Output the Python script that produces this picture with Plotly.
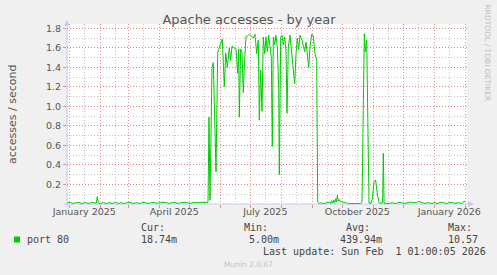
import plotly.graph_objects as go
import pandas as pd

# ---------------- data (day offset from 2025-01-01, accesses/second) ----------------
quiet_start = [(-2.0, 0.012), (1, 0.016), (4, 0.004), (7, 0.015), (10, 0.014), (13, 0.003),
               (16, 0.016), (19, 0.005), (22, 0.015), (25, 0.012), (27, 0.010), (28, 0.075),
               (29, 0.012), (31, 0.004), (34, 0.016), (37, 0.003), (40, 0.015), (43, 0.004),
               (46, 0.016), (49, 0.005), (52, 0.014), (55, 0.004), (58, 0.016), (61, 0.017),
               (64, 0.003), (67, 0.016), (70, 0.005), (73, 0.015), (76, 0.016), (79, 0.004),
               (82, 0.015), (85, 0.016), (88, 0.005), (91, 0.017), (94, 0.016), (97, 0.015),
               (100, 0.004), (103, 0.016), (106, 0.016), (109, 0.005), (112, 0.016), (115, 0.017),
               (118, 0.016), (121, 0.004), (124, 0.017), (127, 0.016), (130, 0.018), (133, 0.017),
               (136, 0.016), (138.7, 0.018)]

busy_summer = [(139.7, 0.89), (140.7, 0.04), (142.7, 1.40), (144.0, 1.45), (146.7, 0.33),
               (148.4, 1.55), (150.5, 1.62), (153.0, 1.69), (155.0, 1.20), (156.4, 1.55),
               (158.0, 1.40), (160.0, 1.60), (161.4, 1.47), (162.7, 1.62), (165.0, 1.60),
               (166.7, 1.59), (168.4, 1.34), (169.4, 1.59), (170.0, 0.89), (171.4, 1.59),
               (172.7, 1.55), (174.0, 1.14), (175.0, 1.40), (176.7, 1.72), (178.0, 1.72),
               (180.0, 1.74), (182.4, 1.72), (184.0, 1.70), (185.7, 1.74), (187.4, 1.54),
               (189.0, 1.68), (190.0, 0.86), (191.4, 1.37), (192.7, 0.95), (194.0, 1.71),
               (195.4, 1.54), (196.7, 1.71), (198.0, 1.56), (199.4, 1.73), (200.7, 1.64),
               (202.0, 1.50), (203.0, 0.59), (204.0, 1.71), (205.4, 1.63), (206.7, 1.73),
               (208.0, 1.61), (209.4, 1.20), (210.0, 0.30), (211.4, 1.71), (212.7, 1.73),
               (214.0, 1.63), (215.4, 1.71), (216.7, 1.57), (217.7, 0.93), (219.0, 1.61),
               (220.7, 1.73), (222.4, 1.54), (224.0, 1.40), (225.4, 1.23), (226.7, 1.54),
               (228.0, 1.70), (229.4, 1.58), (230.7, 1.73), (232.7, 1.68), (234.0, 1.61),
               (235.4, 1.56), (236.7, 1.66), (238.0, 1.54), (239.4, 1.40), (240.7, 1.61),
               (242.4, 1.74), (244.0, 1.72), (245.7, 1.54), (247.4, 1.47), (248.4, 0.02)]

quiet_autumn = [(250.0, 0.005), (252.0, 0.012), (254.0, 0.004), (256.0, 0.010), (259.0, 0.015),
                (260.7, 0.020), (261.5, 0.005), (262.5, 0.035), (263.5, 0.010), (264.5, 0.040),
                (265.5, 0.015), (266.5, 0.055), (267.3, 0.020), (268.0, 0.090), (269.0, 0.030),
                (270.0, 0.045), (271.0, 0.020), (272.5, 0.030), (274.0, 0.010), (276.0, 0.020),
                (277.3, 0.012), (279.0, 0.004), (282.0, 0.005), (285.0, 0.004), (288.0, 0.005),
                (291.0, 0.004), (292.7, 0.020), (295.0, 1.745), (296.0, 1.56), (297.4, 1.68),
                (299.7, 0.010), (301.5, 0.005), (303.0, 0.050), (304.7, 0.230), (306.3, 0.245),
                (307.3, 0.170), (308.3, 0.080), (310.0, 0.010), (312.5, 0.005), (313.3, 0.010),
                (314.0, 0.520), (314.8, 0.010), (317.0, 0.004), (320.0, 0.005), (323.0, 0.015),
                (326.0, 0.004), (329.0, 0.016), (332.0, 0.015), (335.0, 0.004), (338.0, 0.015),
                (341.0, 0.020), (344.0, 0.015), (347.0, 0.016), (350.0, 0.025), (353.0, 0.015),
                (356.0, 0.004), (359.0, 0.016), (362.0, 0.005), (365.0, 0.014), (368.0, 0.004),
                (371.0, 0.016), (374.0, 0.016), (377.0, 0.004), (380.0, 0.015), (383.0, 0.016),
                (386.0, 0.005), (389.0, 0.016), (392.0, 0.004), (395.0, 0.030), (396.0, 0.019)]

y_ticks = [0.2, 0.4, 0.6, 0.8, 1.0, 1.2, 1.4, 1.6, 1.8]
x_label_dates = ["2025-01-16", "2025-04-16", "2025-07-16", "2025-10-16", "2026-01-16"]
x_labels = ["January 2025", "April 2025", "July 2025", "October 2025", "January 2026"]

series_name = "port 80"
stat_cur, stat_min, stat_avg, stat_max = "18.74m", "5.00m", "439.94m", "10.57"
last_update = "Last update: Sun Feb\u00a0\u00a01 01:00:05 2026"
title_text = "Apache accesses - by year"
y_title = "accesses / second"
side_text = "RRDTOOL / TOBI OETIKER"
footer = "Munin 2.0.67"

# ---------------- build ----------------
BASE = pd.Timestamp("2025-01-01")
points = quiet_start + busy_summer + quiet_autumn
xs = [BASE + pd.Timedelta(days=d) for d, _ in points]
ys = [v for _, v in points]

W, H = 497, 275
PL, PR, PT, PB = 67, 467, 24, 204  # plot area in pixels


def fx(p):
    return (p - PL) / (PR - PL)


def fy(p):
    return (PB - p) / (PB - PT)


GREEN = "#00CC00"
RED_GRID = "rgba(225,110,110,0.75)"
GRAY_GRID = "rgba(150,150,150,0.55)"
AXIS = "#C4CCF0"
TXT = "#555555"

fig = go.Figure()
fig.add_trace(go.Scatter(x=xs, y=ys, mode="lines", line=dict(color=GREEN, width=1),
                         hoverinfo="skip", showlegend=False))

mid_months = pd.date_range("2024-12-16", "2026-02-16", freq="MS") + pd.Timedelta(days=15)
tickvals = list(mid_months)
ticktext = []
for t in tickvals:
    s = t.strftime("%Y-%m-%d")
    ticktext.append(x_labels[x_label_dates.index(s)] if s in x_label_dates else "")

x0 = BASE + pd.Timedelta(days=-2.3)
x1 = BASE + pd.Timedelta(days=397.7)

fig.update_layout(
    width=W, height=H, autosize=False,
    margin=dict(l=PL, r=W - PR, t=PT, b=H - PB),
    paper_bgcolor="#F0F0F0", plot_bgcolor="#FFFFFF",
    font=dict(family="DejaVu Sans", color=TXT),
    title=dict(text=title_text, x=249 / W, xref="container", xanchor="center",
               y=1 - 19 / H, yref="container", yanchor="middle",
               font=dict(family="DejaVu Sans", size=13, color=TXT)),
    xaxis=dict(type="date", range=[x0, x1], tickmode="array", tickvals=tickvals,
               ticktext=ticktext, showgrid=True, gridcolor=GRAY_GRID, griddash="1px,2px",
               gridwidth=1, ticks="", showline=False, zeroline=False,
               tickfont=dict(family="DejaVu Sans", size=9.5, color=TXT),
               minor=dict(tickmode="linear", tick0="2025-01-01", dtick="M1", showgrid=True,
                          gridcolor=RED_GRID, griddash="1px,2px", gridwidth=1,
                          ticks="outside", ticklen=3, tickcolor=RED_GRID),
               fixedrange=True),
    yaxis=dict(range=[0, 1.845], tickmode="array", tickvals=y_ticks,
               ticktext=["%.1f" % v for v in y_ticks], showgrid=True, gridcolor=RED_GRID,
               griddash="1px,2px", gridwidth=1, ticks="outside", ticklen=3,
               tickcolor=RED_GRID, showline=False, zeroline=False,
               tickfont=dict(family="DejaVu Sans", size=9.5, color=TXT),
               minor=dict(tickmode="linear", tick0=0, dtick=0.1, showgrid=True,
                          gridcolor=GRAY_GRID, griddash="1px,2px", gridwidth=1),
               fixedrange=True),
)

shapes = []
# axis lines with arrows
shapes.append(dict(type="line", xref="paper", yref="paper", x0=fx(PL), x1=fx(PL),
                   y0=fy(PB + 3), y1=fy(22), line=dict(color=AXIS, width=1), layer="between"))
shapes.append(dict(type="line", xref="paper", yref="paper", x0=fx(PL - 3), x1=fx(471),
                   y0=fy(PB), y1=fy(PB), line=dict(color=AXIS, width=1), layer="between"))
shapes.append(dict(type="path", xref="paper", yref="paper",
                   path="M %f,%f L %f,%f L %f,%f Z" % (fx(64), fy(26), fx(70), fy(26), fx(67), fy(20)),
                   fillcolor=AXIS, line=dict(width=0), layer="above"))
shapes.append(dict(type="path", xref="paper", yref="paper",
                   path="M %f,%f L %f,%f L %f,%f Z" % (fx(468), fy(201), fx(468), fy(207), fx(474), fy(204)),
                   fillcolor=AXIS, line=dict(width=0), layer="above"))
# legend swatch
shapes.append(dict(type="rect", xref="paper", yref="paper", x0=fx(14), x1=fx(20),
                   y0=fy(242.5), y1=fy(236.5), fillcolor=GREEN, line=dict(width=0)))
fig.update_layout(shapes=shapes)

MONO = "DejaVu Sans Mono"
ann = []


def txt(s, x, y, size=10, color="#444444", family=MONO, angle=0, xanchor="left"):
    ann.append(dict(text=s, x=fx(x), y=fy(y), xref="paper", yref="paper", showarrow=False,
                    xanchor=xanchor, yanchor="middle", textangle=angle, borderpad=0,
                    font=dict(family=family, size=size, color=color)))


txt(series_name, 26, 239)
txt("Cur:", 140, 227.5)
txt(stat_cur, 140, 239)
txt("Min:", 243, 227.5)
txt(stat_min, 248, 239)
txt("Avg:", 345, 227.5)
txt(stat_avg, 339, 239)
txt("Max:", 447, 227.5)
txt(stat_max, 447, 239)
txt(last_update, 262, 251)
txt(footer, 223, 264, size=7.5, color="#C4C4C4", family="DejaVu Sans")
txt(y_title, 12, 114, size=11, color=TXT, family="DejaVu Sans", angle=-90, xanchor="center")
txt(side_text, 487.5, 53, size=7.5, color="#BDBDBD", family="DejaVu Sans", angle=90, xanchor="center")
fig.update_layout(annotations=ann)

fig.write_html("out.html")
